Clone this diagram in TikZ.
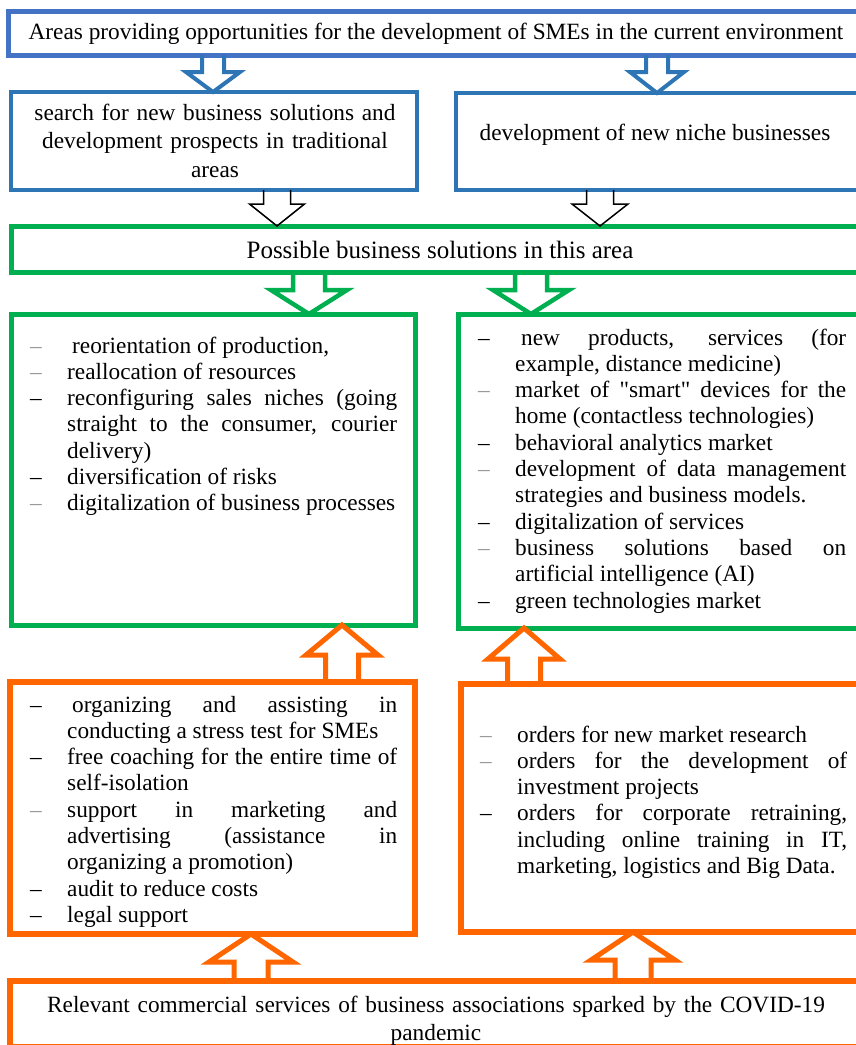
\documentclass[tikz,border=0pt]{standalone}
\usepackage{fontspec}
\setmainfont{Liberation Serif}
\newfontfamily\plainserif{Liberation Serif}
\usetikzlibrary{calc}
\definecolor{topblue}{HTML}{4472C4}
\definecolor{midblue}{HTML}{2E75B6}
\definecolor{grn}{HTML}{00B050}
\definecolor{org}{HTML}{FF6600}
\definecolor{dashgrey}{HTML}{9A9A9A}
\tolerance=10000
\hbadness=10000
\hyphenpenalty=10000
\emergencystretch=20pt
% block arrow: #1 style, #2 start, #3 tip, #4 half shaft, #5 half head, #6 head length
\newcommand\blockarrow[6]{%
  \draw[#1] let \p1=(#2), \p2=(#3), \n1={sign(\y2-\y1)} in
    (\x1-#4,\y1) -- (\x1-#4,\y2-\n1*#6) -- (\x1-#5,\y2-\n1*#6) -- (\x2,\y2)
    -- (\x1+#5,\y2-\n1*#6) -- (\x1+#4,\y2-\n1*#6) -- (\x1+#4,\y1);}
\newcommand\itm[2]{\noindent\llap{\makebox[37pt][l]{\textcolor{#1}{\textendash}}}#2\par}
\newcommand\qq{{\plainserif"}}
\tikzset{
  panel/.style={draw=#1, line width=5pt, rectangle, outer sep=0pt, inner sep=0pt, anchor=north west},
  lbl/.style={inner sep=0pt, anchor=base, align=center, font=\fontsize{23.3}{28.5}\selectfont},
  lst/.style={inner sep=0pt, anchor=base west, text width=330pt, align=justify, font=\fontsize{23.3}{26.3}\selectfont},
  barw/.style={draw=#1, line width=4.5pt, line join=miter},
}
\begin{document}
\begin{tikzpicture}[x=1pt,y=-1pt]
\useasboundingbox (0,0) rectangle (856,1045);
\fill[white] (0,0) rectangle (856,1045);
\clip (0,0) rectangle (856,1045);

% boxes
\node[panel=topblue, minimum width=862pt, minimum height=44pt] (top) at (8,11) {};
\node[panel=midblue, line width=4.5pt, minimum width=406pt, minimum height=98pt] (sb) at (11,92) {};
\node[panel=midblue, line width=4.5pt, minimum width=414pt, minimum height=97pt] (nb) at (456,93) {};
\node[panel=grn, minimum width=859pt, minimum height=46pt] (pb) at (11,226) {};
\node[panel=grn, minimum width=404pt, minimum height=311pt] (gl) at (11,314) {};
\node[panel=grn, minimum width=412pt, minimum height=314pt] (gr) at (458,314) {};
\node[panel=org, line width=5.5pt, minimum width=405pt, minimum height=252pt] (ol) at (10,682) {};
\node[panel=org, line width=5.5pt, minimum width=409pt, minimum height=248pt] (orr) at (461,684) {};
\node[panel=org, line width=5.5pt, minimum width=860pt, minimum height=66pt] (cb) at (10,981) {};

% arrow positions
\coordinate (xb1) at (213,0);
\coordinate (xb2) at (657,0);
\coordinate (xk1) at (277,0);
\coordinate (xk2) at (600,0);
\coordinate (xg1) at (309,0);
\coordinate (xg2) at (531,0);
\coordinate (xo1) at (342,0);
\coordinate (xo2) at (524,0);
\coordinate (xo3) at (251,0);
\coordinate (xo4) at (633,0);

\blockarrow{barw=midblue, line width=4pt}{xb1 |- top.south}{xb1 |- sb.north}{11pt}{27pt}{20pt}
\blockarrow{barw=midblue, line width=4pt}{xb2 |- top.south}{xb2 |- nb.north}{11pt}{27pt}{21pt}
\blockarrow{barw=black, line width=1.5pt}{xk1 |- sb.south}{xk1 |- pb.north}{13.5pt}{27.5pt}{22pt}
\blockarrow{barw=black, line width=1.5pt}{xk2 |- nb.south}{xk2 |- pb.north}{13.5pt}{28pt}{22pt}
\blockarrow{barw=grn}{xg1 |- pb.south}{xg1 |- gl.north}{16pt}{38pt}{24pt}
\blockarrow{barw=grn}{xg2 |- pb.south}{xg2 |- gr.north}{16pt}{38pt}{24pt}
\blockarrow{barw=org, line width=5pt}{xo1 |- ol.north}{xo1 |- gl.south}{16.5pt}{36pt}{30pt}
\blockarrow{barw=org, line width=5pt}{xo2 |- orr.north}{xo2 |- gr.south}{16.5pt}{36pt}{31pt}
\blockarrow{barw=org, line width=5pt}{xo3 |- cb.north}{xo3 |- ol.south}{17pt}{42pt}{28pt}
\blockarrow{barw=org, line width=5pt}{xo4 |- cb.north}{xo4 |- orr.south}{18pt}{42pt}{28pt}

% texts
\node[lbl] (ttop) at (436,39) {Areas providing opportunities for the development of SMEs in the current environment};
\node[lbl, text width=400pt] (tsb) at (215,120) {search for new business solutions and\\ development prospects in traditional\\ areas};
\node[lbl] (tnb) at (655,140) {development of new niche businesses};
\node[lbl, font=\fontsize{25}{30}\selectfont] (tpb) at (440,258) {Possible business solutions in this area};
\node[lbl, text width=800pt, font=\fontsize{23.3}{28}\selectfont] (tcb) at (436,1012) {Relevant commercial services of business associations sparked by the COVID-19\\ pandemic};

\node[lst] (lgl) at (67,353) {%
\itm{dashgrey}{\hspace{5pt}reorientation of production,}%
\itm{dashgrey}{reallocation of resources}%
\itm{black}{reconfiguring sales niches (going\linebreak straight to the consumer, courier\linebreak delivery)}%
\itm{black}{diversification of risks}%
\itm{dashgrey}{digitalization of business processes}};

\node[lst, text width=331pt] (lgr) at (515,345) {%
\itm{black}{\hspace{6pt}new products, services (for\linebreak example, distance medicine)}%
\itm{dashgrey}{market of \qq smart\qq{} devices for the\linebreak home (contactless technologies)}%
\itm{black}{behavioral analytics market}%
\itm{dashgrey}{development of data management\linebreak strategies and business models.}%
\itm{black}{digitalization of services}%
\itm{dashgrey}{business solutions based on\linebreak artificial intelligence (AI)}%
\itm{black}{green technologies market}};

\node[lst] (lol) at (67,712) {%
\itm{black}{\hspace{5pt}organizing and assisting in\linebreak conducting a stress test for SMEs}%
\itm{black}{free coaching for the entire time of\linebreak self-isolation}%
\itm{dashgrey}{support in marketing and\linebreak advertising (assistance in\linebreak organizing a promotion)}%
\itm{black}{audit to reduce costs}%
\itm{black}{legal support}};

\node[lst] (lor) at (517,742) {%
\itm{dashgrey}{orders for new market research}%
\itm{dashgrey}{orders for the development of\linebreak investment projects}%
\itm{black}{orders for corporate retraining,\linebreak including online training in IT,\linebreak marketing, logistics and Big Data.}};
\end{tikzpicture}
\end{document}
